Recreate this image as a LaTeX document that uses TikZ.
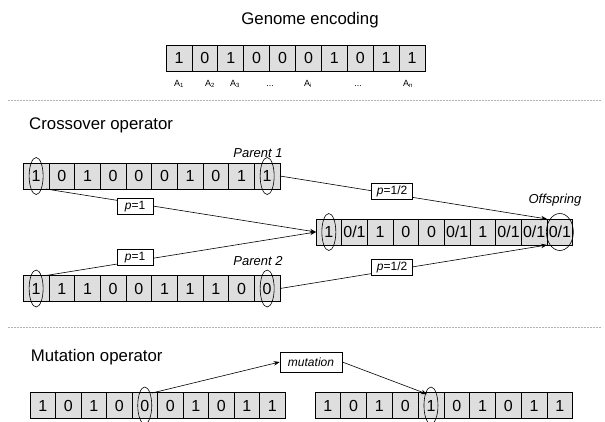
\documentclass[tikz,border=0pt]{standalone}
\usepackage{fontspec}
\setmainfont{Liberation Sans}
\usetikzlibrary{shapes.geometric,arrows.meta,calc}
\begin{document}
\begin{tikzpicture}[x=1pt,y=-1pt,
  bitcell/.style={draw=black, fill=black!13, minimum width=#1, minimum height=26pt, inner sep=0pt, outer sep=0pt, line width=0.7pt, font=\fontsize{16}{16}\selectfont},
  title/.style={font=\fontsize{16.8}{17}\selectfont, inner sep=0pt},
  itlabel/.style={font=\fontsize{13}{13}\selectfont\itshape, inner sep=0pt},
  genelabel/.style={font=\fontsize{9}{9}\selectfont, inner sep=0pt},
  sel/.style={draw=black, ellipse, line width=0.6pt, minimum width=14pt, minimum height=37pt, inner sep=0pt},
  prob/.style={draw=black, fill=white, font=\fontsize{12}{12}\selectfont, minimum width=36pt, minimum height=16pt, inner sep=1pt, line width=0.6pt},
  conn/.style={line width=0.6pt},
  arr/.style={conn, -{Stealth[length=6pt,width=4.5pt]}},
  sep/.style={draw=black!30, dash pattern=on 2pt off 1pt, line width=0.6pt}
]
\useasboundingbox (0,0) rectangle (605,421);

% ---------- Genome encoding ----------
\node[title] (gt) at (310,20) {Genome encoding};
\foreach \v [count=\i] in {1,0,1,0,0,0,1,0,1,1}
  \node[bitcell=25.9pt] (g\i) at ({166+(\i-0.5)*25.9},58) {\v};
\node[genelabel] (la1) at (179,84) {A\textsubscript{1}};
\node[genelabel] (la2) at (210,84) {A\textsubscript{2}};
\node[genelabel] (la3) at (235,84) {A\textsubscript{3}};
\node[genelabel] (ld1) at (270,86) {...};
\node[genelabel] (lai) at (308,84) {A\textsubscript{i}};
\node[genelabel] (ld2) at (358,86) {...};
\node[genelabel] (lan) at (408,84) {A\textsubscript{n}};

\coordinate (s1a) at (8,100);
\coordinate (s1b) at (602,100);
\draw[sep] (s1a) -- (s1b);

% ---------- Crossover ----------
\node[title, anchor=west] (ct) at (29,125) {Crossover operator};
\node[itlabel] (p1l) at (258,153) {Parent 1};
\foreach \v [count=\i] in {1,0,1,0,0,0,1,0,1,1}
  \node[bitcell=25.67pt] (pa\i) at ({23.3+(\i-0.5)*25.67},176) {\v};
\node[itlabel] (p2l) at (258,261) {Parent 2};
\foreach \v [count=\i] in {1,1,1,0,0,1,1,1,0,0}
  \node[bitcell=25.67pt] (pb\i) at ({23.3+(\i-0.5)*25.67},288.5) {\v};
\node[itlabel] (ofl) at (555,200) {Offspring};
\foreach \v [count=\i] in {1,{0/1},1,0,0,{0/1},1,{0/1},{0/1},{0/1}}
  \node[bitcell=25.67pt] (o\i) at ({316+(\i-0.5)*25.67},232) {\v};

\node[sel] (e1) at (pa1) {};
\node[sel] (e2) at (pa10) {};
\node[sel] (e3) at (pb1) {};
\node[sel] (e4) at (pb10) {};
\node[sel] (e5) at (o1) {};
\node[sel, minimum width=27pt] (e6) at (o10) {};

\draw[arr] ([xshift=-3pt]pa1.south east) -- node[prob, pos=0.33, yshift=-3pt] (q1) {\textit{p}=1} (o1.west);
\draw[arr] ([xshift=-3pt]pb1.north east) -- node[prob, pos=0.33, yshift=4pt] (q2) {\textit{p}=1} (o1.west);
\draw[arr] (pa10.east) -- node[prob, pos=0.42, yshift=3pt, minimum width=41pt] (q3) {\textit{p}=1/2} (o10.north west);
\draw[arr] (pb10.east) -- node[prob, pos=0.42, yshift=3pt, minimum width=41pt] (q4) {\textit{p}=1/2} (o10.south west);

\coordinate (s2a) at (8,327);
\coordinate (s2b) at (602,327);
\draw[sep] (s2a) -- (s2b);

% ---------- Mutation ----------
\node[title, anchor=west] (mt) at (30.7,357) {Mutation operator};
\node[draw=black, fill=white, line width=0.6pt, minimum width=62pt, minimum height=20pt, inner sep=1pt, font=\fontsize{12}{12}\selectfont\itshape] (mbox) at (311,362) {mutation};
\foreach \v [count=\i] in {1,0,1,0,0,0,1,0,1,1}
  \node[bitcell=25.5pt] (ml\i) at ({30+(\i-0.5)*25.5},405.5) {\v};
\foreach \v [count=\i] in {1,0,1,0,1,0,1,0,1,1}
  \node[bitcell=25.77pt] (mr\i) at ({315+(\i-0.5)*25.77},405.5) {\v};
\node[sel] (e7) at (ml5) {};
\node[sel] (e8) at (mr5) {};
\coordinate (m1) at (152,393);
\coordinate (m2) at (427,394);
\draw[arr] (m1) -- (mbox.west);
\draw[arr] (mbox.east) -- (m2);
\end{tikzpicture}
\end{document}
